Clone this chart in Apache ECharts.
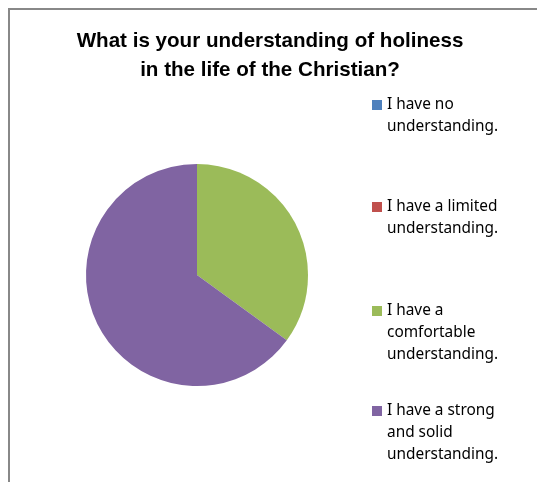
<!DOCTYPE html>
<html>
<head>
<meta charset="utf-8">
<title></title>
<script src="https://cdn.jsdelivr.net/npm/echarts@6/dist/echarts.min.js"></script>
</head>
<body style="padding:0;margin:0;background:#fff;">
<div id="main" style="width:537px;height:482px;"></div>
<script type="text/javascript">
// categories and answer shares (percent)
var categories = [
	'I have no understanding.',
	'I have a limited understanding.',
	'I have a comfortable understanding.',
	'I have a strong and solid understanding.'
];
var values = [0, 0, 35, 65];
// how each legend entry wraps
var legendLines = [
	['I have no', 'understanding.'],
	['I have a limited', 'understanding.'],
	['I have a', 'comfortable', 'understanding.'],
	['I have a strong', 'and solid', 'understanding.']
];
var colors = ['#4F81BD', '#C0504D', '#9BBB59', '#8064A2'];

var lh = 22;
var markerCenters = [105, 207, 311, 411];

var legends = [];
for (var i = 0; i < categories.length; i++) {
	var lines = legendLines[i];
	// blank lines above so the marker sits on the first line
	var pad = new Array(lines.length - 1).fill('');
	var total = lines.length * 2 - 1;
	legends.push({
		data: [categories[i]],
		left: 372,
		top: markerCenters[i] - total * lh / 2,
		padding: 0,
		itemWidth: 10,
		itemHeight: 10,
		icon: 'rect',
		selectedMode: false,
		formatter: (function (t) { return function () { return t; }; })(pad.concat(lines).join('\n')),
		textStyle: {
			fontFamily: 'Noto Sans',
			fontSize: 15.4,
			lineHeight: lh,
			color: '#000'
		}
	});
}

var seriesData = [];
for (var i = 0; i < categories.length; i++) {
	seriesData.push({ name: categories[i], value: values[i], itemStyle: { color: colors[i] } });
}

var myChart = echarts.init(document.getElementById('main'));
myChart.setOption({
	animation: false,
	title: {
		text: 'What is your understanding of holiness\nin the life of the Christian?',
		left: 265,
		top: 22,
		textAlign: 'center',
		textStyle: {
			fontFamily: 'Liberation Sans',
			fontWeight: 'bold',
			fontSize: 20.6,
			lineHeight: 29,
			color: '#000'
		}
	},
	graphic: [{
		type: 'rect',
		shape: { x: 9, y: 9, width: 600, height: 600 },
		style: { fill: 'none', stroke: '#888', lineWidth: 2 },
		silent: true
	}],
	legend: legends,
	series: [{
		type: 'pie',
		center: [197, 275],
		radius: 111,
		startAngle: 90,
		clockwise: true,
		label: { show: false },
		labelLine: { show: false },
		itemStyle: { borderWidth: 0 },
		emphasis: { disabled: true },
		data: seriesData
	}]
});
</script>
</body>
</html>
